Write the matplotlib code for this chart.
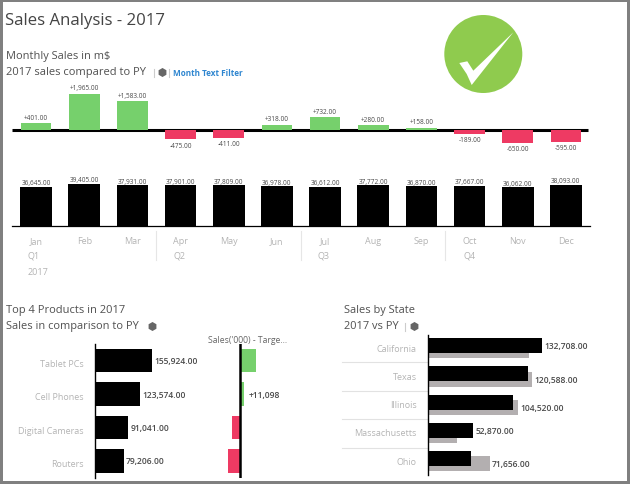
import matplotlib
matplotlib.use("Agg")
import matplotlib.pyplot as plt
from matplotlib.patches import Circle, Polygon, Rectangle

plt.rcParams["font.family"] = ["Open Sans", "DejaVu Sans"]

# ------------------------------------------------
# Data
# ------------------------------------------------

months = ["Jan", "Feb", "Mar", "Apr", "May", "Jun", "Jul", "Aug", "Sep", "Oct", "Nov", "Dec"]
month_sales = [36645, 39405, 37931, 37901, 37809, 36978, 36612, 37772, 36870, 37667, 36062, 38093]
month_diff = [401, 1965, 1583, -475, -411, 318, 732, 280, 158, -189, -650, -595]

products = ["Tablet PCs", "Cell Phones", "Digital Cameras", "Routers"]
product_sales = [155924, 123574, 91041, 79206]
product_diff = [41000, 11098, -19700, -30800]

states = ["California", "Texas", "Illinois", "Massachusetts", "Ohio"]
state_sales = [132708, 116600, 98500, 52870, 50000]
state_py = [117400, 120588, 104520, 33400, 71656]

GREEN = "#76d06c"
RED = "#ee3a63"
LABEL = "#b4b4b4"
HEAD = "#505050"
VALUE = "#4a4a4a"

W, H = 630, 485
fig = plt.figure(figsize=(W / 100, H / 100), dpi=100, facecolor="white")


def ax_px(left, top, right, bottom):
    # axes placed by its pixel box, y counted from the top of the picture
    ax = fig.add_axes([left / W, 1 - bottom / H, (right - left) / W, (bottom - top) / H])
    ax.patch.set_alpha(0)
    for s in ax.spines.values():
        s.set_visible(False)
    ax.tick_params(length=0)
    return ax


# ------------------------------------------------
# Overlay for frame, headings, icon
# ------------------------------------------------

bg = ax_px(0, 0, W, H)
bg.set_xlim(0, W)
bg.set_ylim(H, 0)
bg.axis("off")

for rect in [(0, 0, W, 3), (0, 482, W, 3), (0, 0, 3, H), (627, 0, 3, H)]:
    bg.add_patch(Rectangle(rect[:2], rect[2], rect[3], color="#808080", lw=0))

bg.text(5, 21, "Sales Analysis - 2017", fontsize=12.1, color="#444444", va="center")
bg.text(6, 57, "Monthly Sales in m$", fontsize=7.9, color=HEAD, va="center")
bg.text(6, 73, "2017 sales compared to PY", fontsize=8.0, color=HEAD, va="center")
bg.text(173, 74, "Month Text Filter", fontsize=5.9, color="#2f86d0", weight="bold", va="center")
bg.text(6, 311, "Top 4 Products in 2017", fontsize=8.0, color=HEAD, va="center")
bg.text(6, 327, "Sales in comparison to PY", fontsize=7.9, color=HEAD, va="center")
bg.text(344, 311, "Sales by State", fontsize=7.9, color=HEAD, va="center")
bg.text(344, 327, "2017 vs PY", fontsize=7.9, color=HEAD, va="center")
bg.text(248, 341, "Sales('000) - Targe...", fontsize=6.2, color="#666666", ha="center", va="center")

# cube icons + small separators
for x, y in [(162, 73), (152, 327), (414, 327)]:
    bg.plot(x, y, marker="h", ms=6.5, color="#666666", mec="none")
for x, y in [(154, 74), (169, 74), (405, 328)]:
    bg.plot([x, x], [y - 4, y + 4], color="#cccccc", lw=0.8)

# check mark badge
bg.add_patch(Circle((483.3, 55), 39, color="#8fcb4e", lw=0))
bg.add_patch(Polygon([(459.3, 64), (467.3, 62.3), (473.3, 71.7), (513.3, 33.3),
                      (471.7, 86), (466.7, 75)], color="white", lw=0))

# quarter labels under month axis
for x, q in zip([28, 173, 318, 463], ["Q1", "Q2", "Q3", "Q4"]):
    bg.text(x, 256, q, fontsize=6.5, color=LABEL, va="center")
bg.text(28, 273, "2017", fontsize=6.5, color=LABEL, va="center")
for x in [156, 301, 445]:
    bg.plot([x, x], [232, 261], color="#e6e6e6", lw=0.8)

# row separators in the state chart
for y in [363.3, 392, 419.7, 448.7]:
    bg.plot([342, 428], [y, y], color="#e2e2e2", lw=0.8)

# ------------------------------------------------
# Monthly variance
# ------------------------------------------------

ax1 = ax_px(12, 85, 590, 160)
ax1.set_xlim(-0.5, 11.5)
ax1.set_ylim(-1516, 2473)
ax1.set_xticks([])
ax1.set_yticks([])
ax1.plot([-0.5, 11.45], [0, 0], color="black", lw=2.2, zorder=1, solid_capstyle="butt")
bars = ax1.bar(range(12), month_diff, width=0.64,
               color=[GREEN if v > 0 else RED for v in month_diff], zorder=2)
ax1.bar_label(bars, labels=[f"{v:+,.2f}" for v in month_diff], padding=1.5, fontsize=4.7, color=VALUE)

# ------------------------------------------------
# Monthly sales
# ------------------------------------------------

ax2 = ax_px(12, 175, 590, 227)
ax2.set_xlim(-0.5, 11.5)
ax2.set_ylim(0, 48372)
ax2.set_yticks([])
ax2.set_xticks(range(12), months, fontsize=6.5, color=LABEL)
ax2.tick_params(axis="x", pad=7.5)
ax2.spines["bottom"].set_visible(True)
ax2.spines["bottom"].set_linewidth(0.9)
bars = ax2.bar(range(12), month_sales, width=0.655, color="black")
ax2.bar_label(bars, labels=[f"{v:,.2f}" for v in month_sales], padding=0.5, fontsize=4.7, color=VALUE)

# ------------------------------------------------
# Top products
# ------------------------------------------------

ax3 = ax_px(95, 345, 200, 479)
ax3.set_xlim(0, 286885)
ax3.set_ylim(3.51, -0.5)
ax3.set_xticks([])
ax3.set_yticks([r + 0.05 for r in range(4)], products, fontsize=6.5, color=LABEL)
ax3.tick_params(axis="y", pad=8)
ax3.spines["left"].set_visible(True)
ax3.spines["left"].set_linewidth(1.0)
bars = ax3.barh(range(4), product_sales, height=0.7, color="black")
ax3.bar_label(bars, labels=[f"{v:,.2f}" for v in product_sales], padding=1.5, fontsize=6.1,
              color=VALUE, weight="semibold")

ax4 = ax_px(215, 345, 275, 479)
ax4.set_xlim(-64100, 89740)
ax4.set_ylim(3.51, -0.5)
ax4.set_xticks([])
ax4.set_yticks([])
ax4.barh(range(4), product_diff, height=0.7, color=[GREEN if v > 0 else RED for v in product_diff])
ax4.axvline(0, color="black", lw=1.8)
ax4.text(product_diff[1] + 10000, 1, f"{product_diff[1]:+,}", fontsize=6.1, color=VALUE,
         weight="semibold", va="center")

# ------------------------------------------------
# Sales by state
# ------------------------------------------------

ax5 = ax_px(428, 335.7, 590, 476)
ax5.set_xlim(0, 188372)
ax5.set_ylim(4.58, -0.39)
ax5.set_xticks([])
ax5.set_yticks([r + 0.05 for r in range(5)], states, fontsize=6.5, color=LABEL)
ax5.tick_params(axis="y", pad=8)
ax5.spines["left"].set_visible(True)
ax5.spines["left"].set_linewidth(1.0)
rows = list(range(5))
ax5.barh([r + 0.18 for r in rows], state_py, height=0.53, color="#b3afb0")
ax5.barh(rows, state_sales, height=0.53, color="black")
for r, cur, py in zip(rows, state_sales, state_py):
    top = max(cur, py)
    ax5.text(top + 2800, r if cur >= py else r + 0.18, f"{top:,.2f}", fontsize=6.1,
             color=VALUE, weight="semibold", va="center")

fig.savefig("out.png", dpi=100)
